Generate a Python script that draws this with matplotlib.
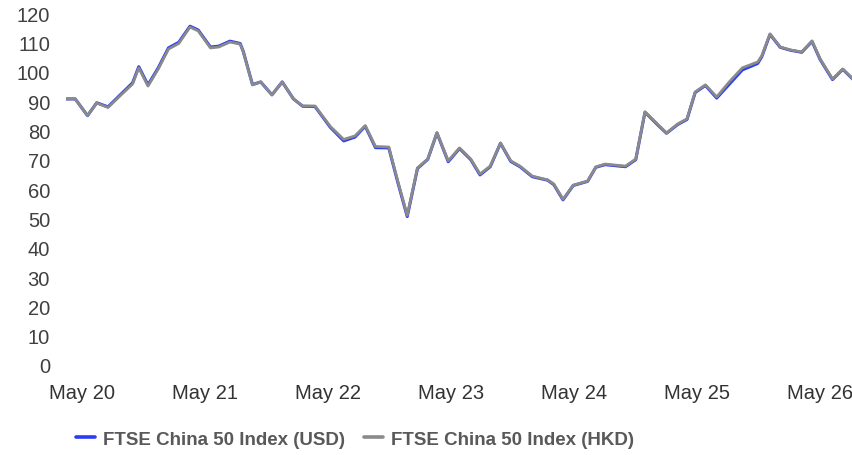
import matplotlib
matplotlib.use("Agg")
import matplotlib.pyplot as plt

# months since May 2020
months = [-1.6, -0.7, 0.5, 1.4, 2.5, 3.9, 4.9, 5.5, 6.4, 7.4, 8.4, 9.4, 10.5, 11.3,
          12.5, 13.3, 14.4, 15.4, 15.7, 16.6, 17.4, 18.5, 19.5, 20.6, 21.5, 22.7,
          24.2, 25.5, 26.6, 27.6, 28.6, 29.9, 30.8, 31.7, 32.7, 33.7, 34.6, 35.7,
          36.8, 37.9, 38.8, 39.8, 40.8, 41.8, 42.7, 43.9, 45.4, 46.0, 46.9, 47.9,
          49.3, 50.1, 51.0, 53.0, 54.0, 54.9, 56.1, 57.0, 58.1, 59.0, 59.8, 60.8,
          61.9, 63.2, 64.4, 65.9, 66.3, 67.1, 68.1, 69.1, 70.2, 71.2, 72.0, 73.2,
          74.2, 75.2]

hkd = [90.7, 90.7, 85.0, 89.3, 87.8, 92.5, 95.8, 101.3, 95.1, 100.9, 107.7, 109.6,
       115.2, 113.9, 108.1, 108.4, 110.1, 109.4, 106.7, 95.5, 96.5, 92.1, 96.5, 90.7,
       88.3, 88.3, 81.3, 76.9, 78.1, 81.6, 74.5, 74.3, 62.4, 51.0, 67.2, 70.2, 79.2,
       69.6, 74.0, 70.2, 65.1, 67.8, 75.7, 69.6, 67.8, 64.4, 63.1, 61.7, 56.5, 61.3,
       62.7, 67.5, 68.5, 67.8, 70.2, 86.3, 82.2, 79.1, 82.2, 83.9, 93.1, 95.5, 91.4,
       96.8, 101.3, 103.3, 105.4, 112.9, 108.4, 107.4, 106.7, 110.5, 104.3, 97.5,
       100.9, 97.5]

usd = [90.7, 90.7, 85.0, 89.4, 88.0, 92.8, 96.2, 101.7, 95.5, 101.3, 108.1, 110.0,
       115.5, 114.2, 108.4, 108.7, 110.4, 109.6, 106.9, 95.6, 96.5, 92.1, 96.5, 90.7,
       88.2, 88.1, 81.0, 76.4, 77.7, 81.4, 74.1, 74.0, 62.0, 50.6, 67.0, 70.1, 79.1,
       69.3, 73.8, 70.0, 64.8, 67.6, 75.6, 69.4, 67.6, 64.2, 63.0, 61.5, 56.3, 61.2,
       62.6, 67.4, 68.3, 67.6, 70.0, 86.2, 82.0, 79.0, 82.0, 83.7, 92.9, 95.3, 91.0,
       96.0, 100.6, 102.8, 105.1, 112.7, 108.3, 107.3, 106.6, 110.3, 104.1, 97.3,
       100.8, 97.4]

tick_months = [0, 12, 24, 36, 48, 60, 72]
tick_labels = ["May 20", "May 21", "May 22", "May 23", "May 24", "May 25", "May 26"]
y_ticks = list(range(0, 121, 10))
series_names = ["FTSE China 50 Index (USD)", "FTSE China 50 Index (HKD)"]

plt.rcParams['font.family'] = ['Liberation Sans', 'DejaVu Sans']

W, H = 853, 456
fig = plt.figure(figsize=(W / 100, H / 100), dpi=100)
ax = fig.add_axes([66 / W, (H - 366) / H, (853 - 66) / W, (366 - 14) / H])

ax.plot(months, usd, color="#2a3cf5", lw=2.2, solid_joinstyle="round",
        solid_capstyle="round", label=series_names[0])
ax.plot(months, hkd, color="#8a8a8a", lw=2.0, solid_joinstyle="round",
        solid_capstyle="round", label=series_names[1])

ax.set_xlim(-1.6, 75.2)
ax.set_ylim(0, 120)
ax.set_yticks(y_ticks)
ax.set_xticks(tick_months)
ax.set_xticklabels(tick_labels)
for s in ax.spines.values():
    s.set_visible(False)
ax.tick_params(axis="y", length=0, pad=11.5, labelsize=14.5, labelcolor="#404040")
ax.tick_params(axis="x", length=0, pad=13, labelsize=14.5, labelcolor="#333333")

leg = fig.legend(loc="center", bbox_to_anchor=(355 / W, 1 - 440 / H), ncol=2,
                 frameon=False, handlelength=1.0, handletextpad=0.45,
                 columnspacing=1.0, prop={"weight": "bold", "size": 13.5})
for t in leg.get_texts():
    t.set_color("#595959")
for l in leg.get_lines():
    l.set_linewidth(2.6)

fig.savefig("out.png", dpi=100)
